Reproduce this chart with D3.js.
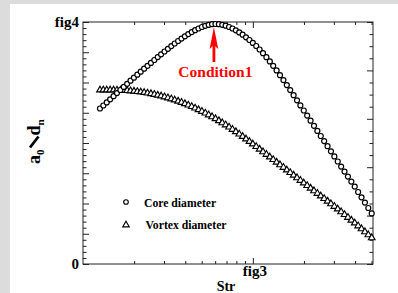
<!DOCTYPE html>
<html><head><meta charset="utf-8">
<script src="https://cdn.jsdelivr.net/npm/d3@7/dist/d3.min.js"></script>
<style>
html,body{margin:0;padding:0;background:#dcdcdc;}
svg{display:block;}
text{font-family:"Liberation Serif","Times New Roman",serif;font-weight:bold;}
</style></head><body>
<svg id="c" width="398" height="293"></svg>
<script>
// ---- data ----
const strValues = [0.1259,0.1318,0.1380,0.1445,0.1514,0.1585,0.1660,0.1738,0.1820,0.1905,
 0.1995,0.2089,0.2188,0.2291,0.2399,0.2512,0.2630,0.2754,0.2884,0.3020,
 0.3162,0.3311,0.3467,0.3631,0.3802,0.3981,0.4169,0.4365,0.4571,0.4786,
 0.5012,0.5248,0.5495,0.5754,0.6026,0.6310,0.6607,0.6918,0.7244,0.7586,
 0.7943,0.8318,0.8710,0.9120,0.9550,1.000,1.047,1.096,1.148,1.202,
 1.259,1.318,1.380,1.445,1.514,1.585,1.660,1.738,1.820,1.905,
 1.995,2.089,2.188,2.291,2.399,2.512,2.630,2.754,2.884,3.020,
 3.162,3.311,3.467,3.631,3.802,3.981,4.169,4.365,4.571,4.786,5.012];
const coreDiameter = [1.555,1.585,1.616,1.647,1.678,1.709,1.740,1.771,1.802,1.833,
 1.863,1.893,1.923,1.953,1.982,2.011,2.040,2.069,2.097,2.125,
 2.152,2.179,2.205,2.230,2.254,2.277,2.299,2.319,2.338,2.355,
 2.370,2.382,2.392,2.398,2.400,2.398,2.392,2.383,2.370,2.355,
 2.337,2.316,2.293,2.267,2.240,2.211,2.180,2.145,2.108,2.068,
 2.026,1.982,1.936,1.888,1.839,1.789,1.739,1.688,1.637,1.586,
 1.535,1.484,1.433,1.382,1.331,1.280,1.229,1.178,1.127,1.076,
 1.025,0.974,0.924,0.874,0.824,0.774,0.720,0.667,0.614,0.560,0.506];
const vortexDiameter = [1.740,1.740,1.740,1.740,1.740,1.739,1.738,1.736,1.734,1.731,
 1.728,1.724,1.720,1.715,1.709,1.703,1.696,1.688,1.680,1.671,
 1.661,1.651,1.640,1.628,1.616,1.603,1.589,1.574,1.559,1.543,
 1.526,1.509,1.491,1.472,1.453,1.433,1.412,1.391,1.369,1.346,
 1.323,1.299,1.275,1.250,1.225,1.200,1.174,1.148,1.122,1.096,
 1.070,1.044,1.018,0.992,0.966,0.940,0.914,0.888,0.862,0.836,
 0.810,0.784,0.758,0.732,0.706,0.680,0.654,0.628,0.602,0.576,
 0.550,0.522,0.494,0.466,0.438,0.410,0.381,0.352,0.322,0.292,0.262];
const seriesNames = ["Core diameter", "Vortex diameter"];
const xTickLabels = [{value: 1, label: "fig3"}];
const yTickLabels = [{value: 0, label: "0"}, {value: 2.42, label: "fig4"}];
const xDomain = [0.1, 5.1];
const yDomain = [0, 2.42];
const annotation = {label: "Condition1", x: 0.59, yTip: 2.37, yTail: 2.02, yText: 1.87};
const xTitle = "Str";

// ---- chart ----
const W = 398, H = 293;
const svg = d3.select("#c");
svg.append("rect").attr("width", W).attr("height", H).attr("fill", "#dcdcdc");
svg.append("rect").attr("x", 10).attr("y", 4).attr("width", W - 10).attr("height", H - 4).attr("fill", "#ffffff");

const m = {l: 83, t: 22, r: 373, b: 264};
const x = d3.scaleLog().domain(xDomain).range([m.l, m.r]);
const y = d3.scaleLinear().domain(yDomain).range([m.b, m.t]);
const yR = d3.scaleLinear().domain([0, 1]).range([m.b, m.t]);
const axisColor = "#222";

function styleAxis(g) {
  g.select(".domain").remove();
  g.selectAll(".tick line").attr("stroke", axisColor).attr("stroke-width", 1);
  g.selectAll(".tick text").remove();
}

const xt = x.ticks().filter(v => v > xDomain[0] && v < xDomain[1]);
const isDecade = v => Math.abs(Math.log10(v) - Math.round(Math.log10(v))) <= 1e-6;
const xMinor = xt.filter(v => !isDecade(v));
const xMajor = xt.filter(isDecade);

svg.append("g").attr("transform", `translate(0,${m.b})`)
  .call(d3.axisBottom(x).tickValues(xMinor).tickSize(-3)).call(styleAxis);
svg.append("g").attr("transform", `translate(0,${m.b})`)
  .call(d3.axisBottom(x).tickValues(xMajor).tickSize(-6)).call(styleAxis);
svg.append("g").attr("transform", `translate(0,${m.t})`)
  .call(d3.axisTop(x).tickValues(xMinor).tickSize(-3)).call(styleAxis);
svg.append("g").attr("transform", `translate(0,${m.t})`)
  .call(d3.axisTop(x).tickValues(xMajor).tickSize(-6)).call(styleAxis);

const yAll = d3.range(41).map(i => yDomain[0] + i * (yDomain[1] - yDomain[0]) / 40);
svg.append("g").attr("transform", `translate(${m.l},0)`)
  .call(d3.axisLeft(y).tickValues(yAll.filter((v, i) => i % 5 !== 0)).tickSize(-3.5)).call(styleAxis);
svg.append("g").attr("transform", `translate(${m.l},0)`)
  .call(d3.axisLeft(y).tickValues(yAll.filter((v, i) => i % 5 === 0)).tickSize(-6)).call(styleAxis);

const yrAll = d3.range(21).map(i => i / 20);
svg.append("g").attr("transform", `translate(${m.r},0)`)
  .call(d3.axisRight(yR).tickValues(yrAll.filter((v, i) => i % 4 !== 0)).tickSize(-3.5)).call(styleAxis);
svg.append("g").attr("transform", `translate(${m.r},0)`)
  .call(d3.axisRight(yR).tickValues(yrAll.filter((v, i) => i % 4 === 0)).tickSize(-6)).call(styleAxis);

svg.append("rect").attr("x", m.l).attr("y", m.t).attr("width", m.r - m.l).attr("height", m.b - m.t)
  .attr("fill", "none").attr("stroke", axisColor).attr("stroke-width", 1);

// tick labels
svg.selectAll(".xl").data(xTickLabels).enter().append("text")
  .attr("x", d => x(d.value) + 2).attr("y", m.b + 12).attr("text-anchor", "middle")
  .attr("font-size", 15).attr("fill", "#000").text(d => d.label);
svg.selectAll(".yl").data(yTickLabels).enter().append("text")
  .attr("x", m.l - 4).attr("y", d => y(d.value) + 5).attr("text-anchor", "end")
  .attr("font-size", 15).attr("fill", "#000").text(d => d.label);

// axis titles
svg.append("text").attr("x", 226).attr("y", 291).attr("text-anchor", "middle")
  .attr("font-size", 14).attr("fill", "#000").text(xTitle);
const yt = svg.append("g").attr("transform", "translate(40,164) rotate(-90)");
const ytxt = yt.append("text").attr("font-size", 18).attr("fill", "#000");
ytxt.append("tspan").text("a");
ytxt.append("tspan").attr("font-size", 11).attr("dy", 3.5).text("0");
ytxt.append("tspan").attr("dx", 14).attr("dy", -3.5).text("d");
ytxt.append("tspan").attr("font-size", 11).attr("dy", 3.5).text("n");
yt.append("line").attr("x1", 16.5).attr("y1", -10).attr("x2", 27.5).attr("y2", -1.5)
  .attr("stroke", "#000").attr("stroke-width", 2.8);

// series
const triPath = d3.symbol().type(d3.symbolTriangle).size(19)();
const ptsV = strValues.map((s, i) => ({s, v: vortexDiameter[i]}));
const ptsC = strValues.map((s, i) => ({s, v: coreDiameter[i]}));
svg.append("g").selectAll("path").data(ptsV).enter().append("path")
  .attr("d", triPath).attr("transform", d => `translate(${x(d.s)},${y(d.v)})`)
  .attr("fill", "#fff").attr("stroke", "#000").attr("stroke-width", 1.15);
svg.append("g").selectAll("circle").data(ptsC).enter().append("circle")
  .attr("cx", d => x(d.s)).attr("cy", d => y(d.v)).attr("r", 2.5)
  .attr("fill", "#fff").attr("stroke", "#000").attr("stroke-width", 1.2);

// legend
const lg = svg.append("g");
lg.append("circle").attr("cx", 126).attr("cy", 202).attr("r", 2.3)
  .attr("fill", "#fff").attr("stroke", "#000").attr("stroke-width", 1.1);
lg.append("path").attr("d", triPath).attr("transform", "translate(126,225)")
  .attr("fill", "#fff").attr("stroke", "#000").attr("stroke-width", 1.1);
lg.append("text").attr("x", 144).attr("y", 206.5).attr("font-size", 11.7).attr("fill", "#000").text(seriesNames[0]);
lg.append("text").attr("x", 145.5).attr("y", 228.5).attr("font-size", 11.7).attr("fill", "#000").text(seriesNames[1]);

// annotation
const ax = x(annotation.x);
svg.append("line").attr("x1", ax).attr("x2", ax).attr("y1", y(annotation.yTail)).attr("y2", y(annotation.yTip) + 14)
  .attr("stroke", "#ff0000").attr("stroke-width", 2.8);
svg.append("path").attr("d", `M${ax},${y(annotation.yTip)} L${ax + 4.3},${y(annotation.yTip) + 22} L${ax},${y(annotation.yTip) + 18} L${ax - 4.3},${y(annotation.yTip) + 22} Z`)
  .attr("fill", "#ff0000");
svg.append("text").attr("x", ax + 1.5).attr("y", y(annotation.yText)).attr("text-anchor", "middle")
  .attr("font-size", 15.5).attr("fill", "#ff0000").text(annotation.label);
</script>
</body></html>
